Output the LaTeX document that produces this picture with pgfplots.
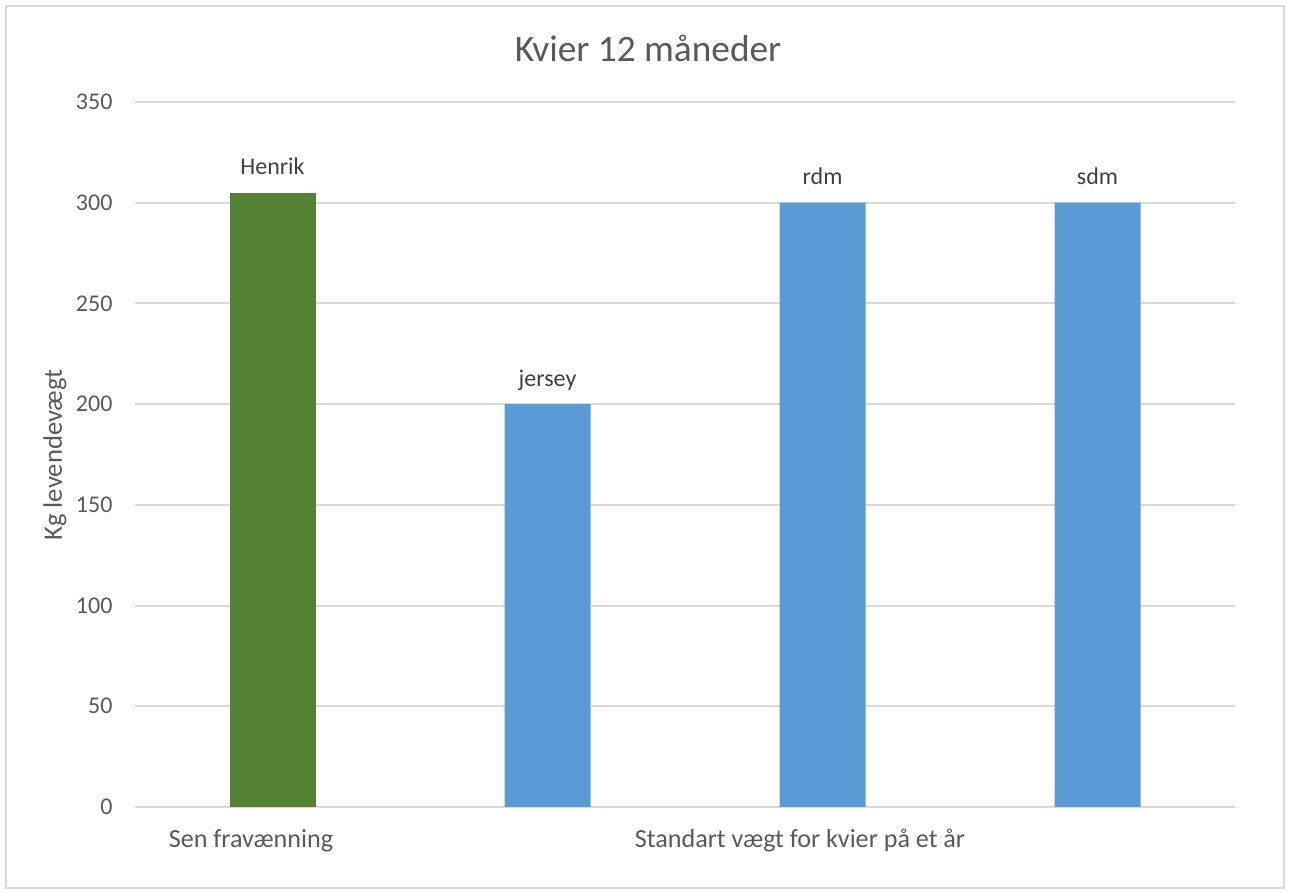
\documentclass[border=0pt]{standalone}
\usepackage{fontspec}
\setmainfont{Carlito}
\usepackage{pgfplots}
\pgfplotsset{compat=1.18}
\definecolor{txt}{HTML}{595959}
\definecolor{lbl}{HTML}{404040}
\definecolor{gridc}{HTML}{D9D9D9}
\definecolor{barblue}{HTML}{5B9BD5}
\definecolor{bargreen}{HTML}{548235}
\begin{document}
\begin{tikzpicture}[x=0.375pt,y=0.375pt]
\useasboundingbox (0,0) rectangle (1290,893);
\draw[gridc, line width=0.9pt] (6,5) rectangle (1284,887);
% plot area: 135..1235 px wide, 86..791 px high (1 px = 0.375pt)
\begin{axis}[
  at={(50.625pt,32.25pt)}, anchor=south west,
  scale only axis, width=412.5pt, height=264.375pt,
  xmin=-0.5, xmax=3.5, ymin=0, ymax=350,
  ytick={0,50,...,350}, xtick=\empty,
  ymajorgrids, grid style={gridc, line width=0.75pt},
  axis line style={draw=none}, major tick length=0pt,
  /pgf/number format/assume math mode=true,
  yticklabel style={font=\fontsize{9}{11}\selectfont, text=txt, inner sep=0pt, xshift=-8.25pt},
  ybar, bar width=32.25pt, bar shift=0pt,
  point meta=explicit symbolic,
  nodes near coords,
  nodes near coords style={font=\fontsize{9}{11}\selectfont, text=lbl, anchor=base, inner sep=0pt, yshift=6.75pt},
]
\addplot[fill=bargreen, draw=none] table[meta=label] {
x y label
0 305 Henrik
};
\addplot[fill=barblue, draw=none] table[meta=label] {
x y label
1 200 jersey
2 300 rdm
3 300 sdm
};
\end{axis}
\node[anchor=base, text=txt, font=\fontsize{14}{17}\selectfont] at (648,831) {Kvier 12 måneder};
\node[rotate=90, text=txt, font=\fontsize{10}{12}\selectfont] at (55,438) {Kg levendevægt};
\node[anchor=base, text=txt, font=\fontsize{9.8}{12}\selectfont] at (251,45) {Sen fravænning};
\node[anchor=base, text=txt, font=\fontsize{9.8}{12}\selectfont] at (800,45) {Standart vægt for kvier på et år};
\end{tikzpicture}
\end{document}
